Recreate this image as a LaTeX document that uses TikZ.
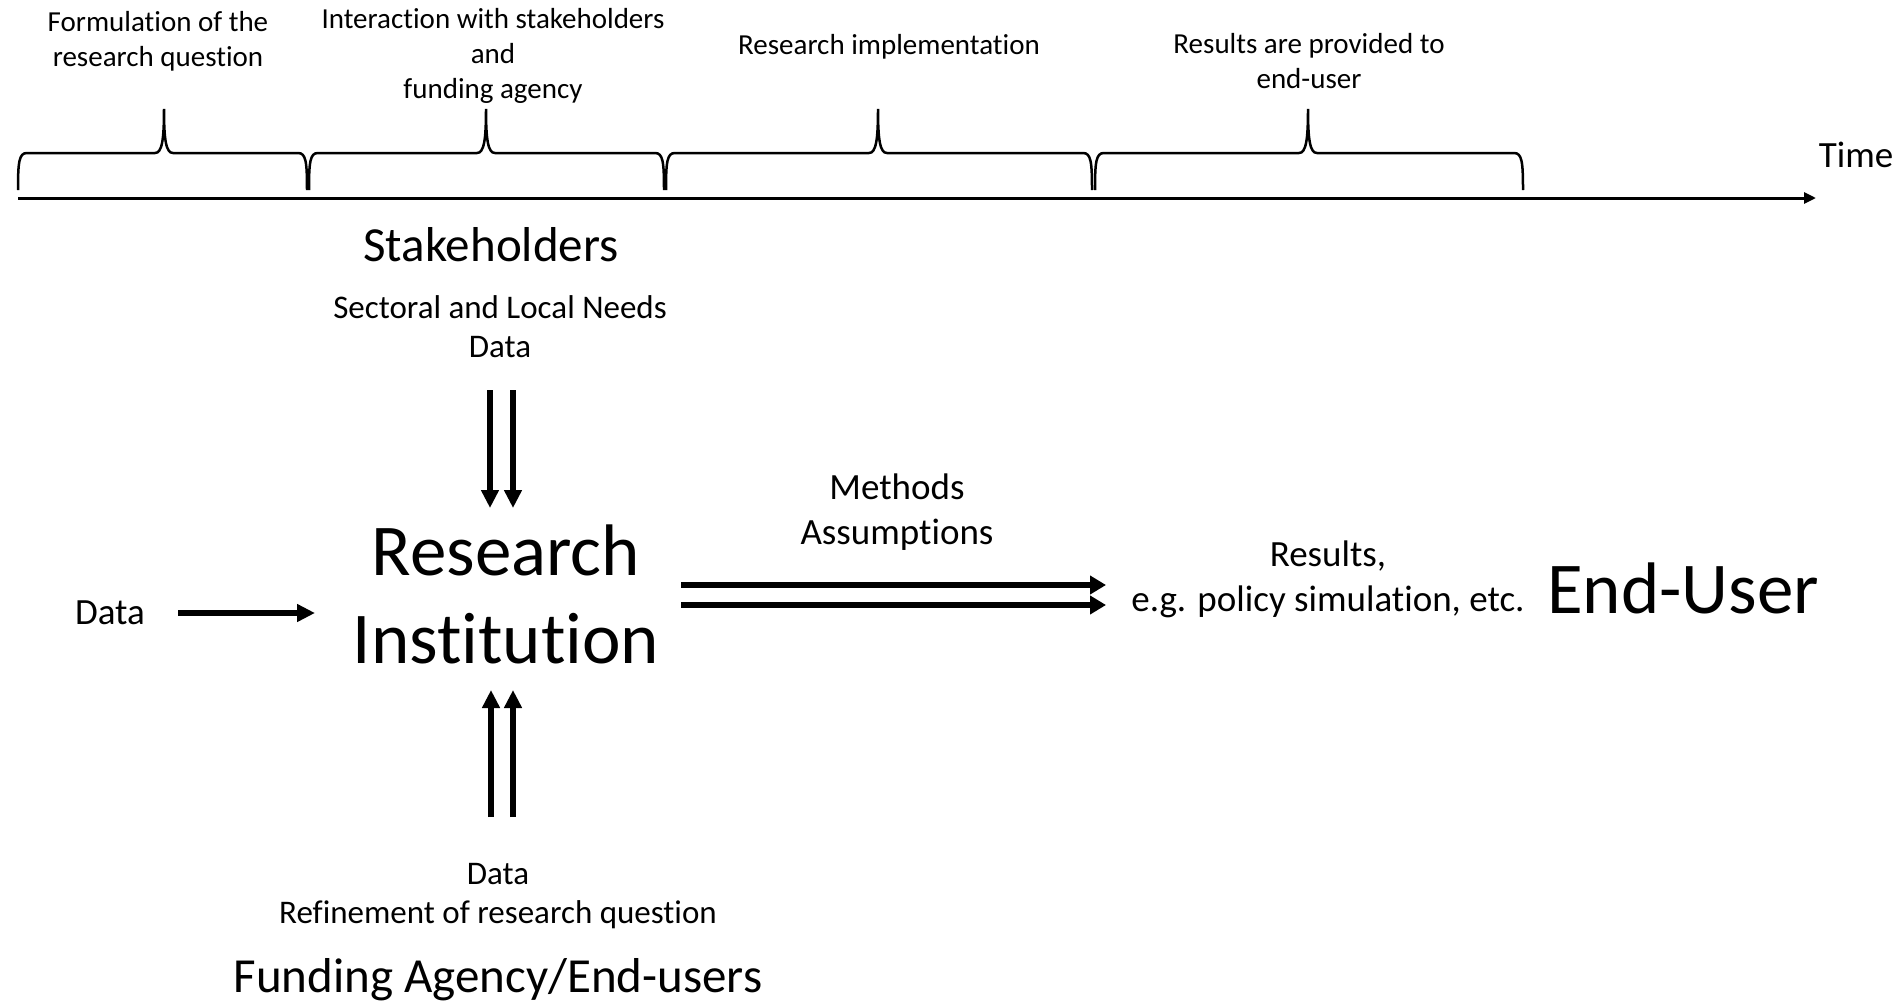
\documentclass[tikz,border=0pt]{standalone}
\usepackage{fontspec}
\setmainfont{Carlito}[Ligatures=NoCommon]
\usetikzlibrary{arrows.meta}

% phase brace on the time line: left end, tip, right end
\newcommand{\phasebrace}[3]{%
  \draw[line width=2.5pt] (#1,190) .. controls (#1,162) and (#1+1,153) .. (#1+9,153)
    -- (#2-9,153) .. controls (#2-2,153) and (#2,140) .. (#2,109)
    .. controls (#2,140) and (#2+2,153) .. (#2+9,153)
    -- (#3-9,153) .. controls (#3-1,153) and (#3,162) .. (#3,190);}

\begin{document}
\begin{tikzpicture}[x=1pt,y=-1pt,
  lbl/.style={align=center,anchor=base,inner sep=0pt},
  phase/.style={lbl,font=\fontsize{29}{35}\selectfont},
  flow/.style={lbl,font=\fontsize{37}{45}\selectfont},
  info/.style={lbl,font=\fontsize{33}{39}\selectfont},
  actor/.style={lbl,font=\fontsize{49}{59}\selectfont},
  main/.style={lbl,font=\fontsize{73}{88}\selectfont},
  thin arrow/.style={line width=5.5pt,-{Triangle[length=18pt,width=17pt]}},
  thick arrow/.style={line width=6pt,-{Triangle[length=16pt,width=18pt]}}]
  \fill[white] (0,0) rectangle (1901,1001);
  \useasboundingbox (0,0) rectangle (1901,1001);

  % time line (base = last line)
  \node[phase] (form) at (158,66) {Formulation of the\\research question};
  \node[phase] (inter) at (493,98) {Interaction with stakeholders\\and\\funding agency};
  \node[phase] (impl) at (889,54) {Research implementation};
  \node[phase] (deliv) at (1309,88) {Results are provided to\\end-user};
  \node[flow] (time) at (1856,167) {Time};
  \phasebrace{18}{164}{307}
  \phasebrace{309}{486}{664}
  \phasebrace{666}{878}{1092}
  \phasebrace{1095}{1308}{1523}
  \coordinate (t0) at (18,198);
  \coordinate (t1) at (1816,198);
  \draw[line width=3pt,-{Triangle[length=12pt,width=11pt]}] (t0) -- (t1);

  % actors
  \node[actor] (stake) at (491,261) {Stakeholders};
  \node[info] (needs) at (500,357) {Sectoral and Local Needs\\Data};
  \node[main] (inst) at (506,663) {Research\\Institution};
  \node[flow] (data) at (110,624) {Data};
  \node[flow] (meth) at (897,544) {Methods\\Assumptions};
  \node[flow] (res) at (1328,611) {Results,\\e.g. policy simulation, etc.};
  \node[main] (user) at (1683,613) {End-User};
  \node[info] (back) at (498,923) {Data\\Refinement of research question};
  \node[actor] (fund) at (498,992) {Funding Agency/End-users};

  % flows
  \coordinate (s1) at (490,390); \coordinate (s1e) at (490,508);
  \coordinate (s2) at (513,390); \coordinate (s2e) at (513,508);
  \coordinate (f1) at (491,817); \coordinate (f1e) at (491,690);
  \coordinate (f2) at (513,817); \coordinate (f2e) at (513,690);
  \coordinate (d0) at (178,613); \coordinate (d1) at (315,613);
  \coordinate (m1) at (681,585); \coordinate (m1e) at (1106,585);
  \coordinate (m2) at (681,605); \coordinate (m2e) at (1106,605);
  \draw[thin arrow] (s1) -- (s1e);
  \draw[thin arrow] (s2) -- (s2e);
  \draw[thin arrow] (f1) -- (f1e);
  \draw[thin arrow] (f2) -- (f2e);
  \draw[thin arrow] (d0) -- (d1);
  \draw[thick arrow] (m1) -- (m1e);
  \draw[thick arrow] (m2) -- (m2e);
\end{tikzpicture}
\end{document}
